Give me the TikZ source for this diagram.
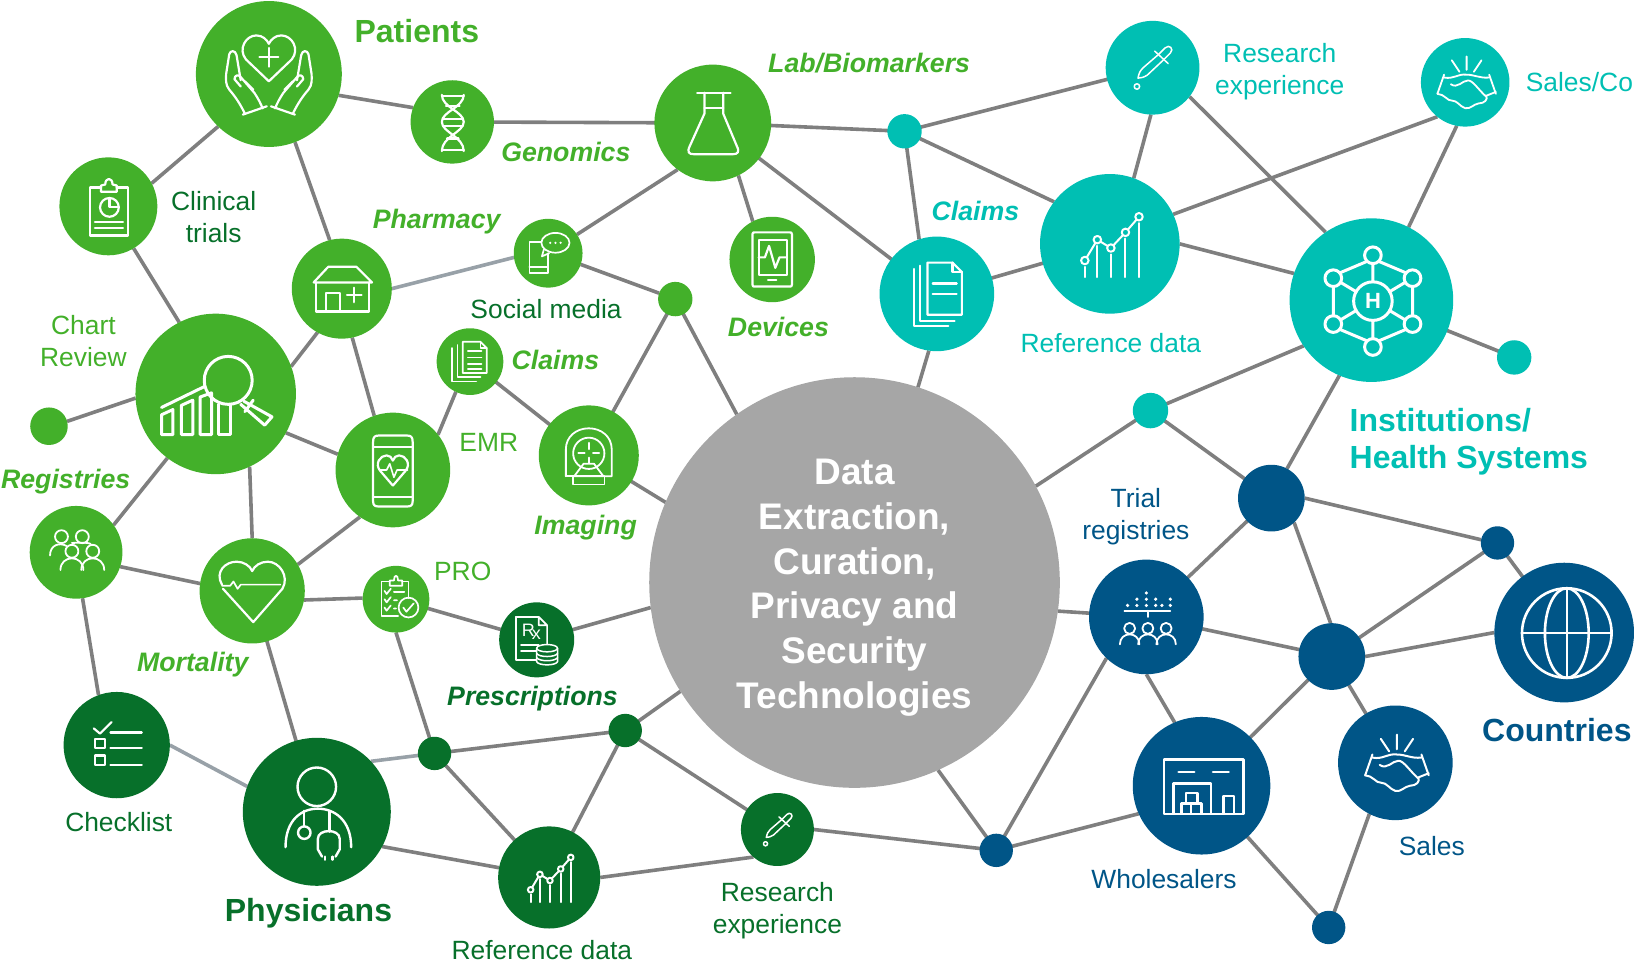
\documentclass[tikz,border=0pt]{standalone}
\usepackage{fontspec}
\setmainfont{Liberation Sans}
\usetikzlibrary{backgrounds}
\definecolor{cgreen}{HTML}{43B02A}
\definecolor{cdark}{HTML}{07702A}
\definecolor{cteal}{HTML}{00BFB3}
\definecolor{cblue}{HTML}{005587}
\definecolor{cgrey}{HTML}{A6A6A6}
\definecolor{linegray}{HTML}{7F7F7F}
\definecolor{linelight}{HTML}{98A1A8}
\tikzset{
  hub/.style={circle,inner sep=0pt,outer sep=0pt,draw=none,minimum size=2.0842pt*#1},
  ngreen/.style={hub=#1,fill=cgreen},
  ndark/.style={hub=#1,fill=cdark},
  nteal/.style={hub=#1,fill=cteal},
  nblue/.style={hub=#1,fill=cblue},
  ncore/.style={hub=#1,fill=cgrey},
  link/.style={draw=linegray,line width=3.6pt},
  linkl/.style={draw=linelight,line width=3.6pt},
  lab/.style={font=\fontsize{26.4}{32}\selectfont,align=center,inner sep=0pt},
  labbi/.style={font=\fontsize{26.7}{32}\selectfont\bfseries\itshape,align=center,inner sep=0pt},
  labb/.style={font=\fontsize{32}{37.5}\selectfont\bfseries,align=left,inner sep=0pt},
  ic/.style={draw=white,line width=#1,line cap=round,line join=round},
  ic/.default=2.2pt,
  pics/hands/.style={code={
    \draw[ic] (0,7) -- (-22,-14) .. controls (-30,-24) and (-22,-37) .. (-12,-37)
      .. controls (-6,-37) and (-2,-33) .. (0,-29) .. controls (2,-33) and (6,-37) .. (12,-37)
      .. controls (22,-37) and (30,-24) .. (22,-14) -- cycle;
    \draw[ic] (-9,-16) -- (9,-16) (0,-25) -- (0,-7);
    \foreach \s in {1,-1}{
      \begin{scope}[xscale=\s]
        \draw[ic] (-25,39) -- (-2,31);
        \draw[ic] (-23,38) .. controls (-28,28) and (-32,22) .. (-38,15)
          .. controls (-42,10) and (-41,5) .. (-41,0) -- (-38,-19)
          .. controls (-37,-23) and (-32,-23) .. (-31,-18) -- (-27,6);
        \draw[ic] (-27,12) -- (-33,5) .. controls (-33,1) and (-29,0) .. (-27,3)
          -- (-14,18) .. controls (-10,24) and (-8,28) .. (-6,33);
        \draw[ic] (-23,7) -- (-15,15);
      \end{scope}}
  }},
  pics/helix/.style={code={
    \draw[ic] (-10,-26) .. controls (-10,-14) and (11,-10) .. (11,0) .. controls (11,10) and (-10,14) .. (-10,28);
    \draw[ic] (11,-26) .. controls (11,-14) and (-10,-10) .. (-10,0) .. controls (-10,10) and (11,14) .. (11,28);
    \draw[ic] (-10,-25) -- (11,-25) (-6,-15) -- (7,-15) (-9,-3) -- (10,-3) (-9,4) -- (10,4) (-5,16) -- (6,16) (-10,27) -- (11,27);
  }},
  pics/flask/.style={code={
    \draw[ic] (-8,-29) -- (-8,-9) -- (-22,22) .. controls (-25,28) and (-23,30) .. (-18,30) -- (19,30)
      .. controls (24,30) and (26,28) .. (23,22) -- (10,-9) -- (10,-29);
    \draw[ic] (-15,-29) -- (17,-29) (-8,-14) -- (10,-14);
  }},
  pics/clipb/.style={code={
    \draw[ic] (-7,-18) -- (-18,-18) -- (-18,28) -- (19,28) -- (19,-18) -- (8,-18);
    \draw[ic] (-7,-14) -- (-7,-20) -- (-3,-21) .. controls (-3,-28) and (4,-28) .. (4,-21) -- (8,-20) -- (8,-14) -- cycle;
    \draw[ic] (1,1) circle[radius=9];
    \draw[ic] (1,-8) -- (1,1) -- (10,1);
    \draw[ic] (-13,15) -- (14,15) (-13,21) -- (14,21);
  }},
  pics/shop/.style={code={
    \draw[ic] (-27,-6) -- (-13,-21) -- (14,-21) -- (29,-6) -- cycle;
    \draw[ic] (-25,-6) -- (-25,22) -- (26,22) -- (26,-6);
    \draw[ic] (-15,22) -- (-15,4) -- (-2,4) -- (-2,22);
    \draw[ic] (5,6) -- (19,6) (12,-1) -- (12,13);
  }},
  pics/review/.style={code={
    \draw[ic=3pt] (12,-13) circle[radius=23];
    \draw[ic=3pt] (-52,13) -- (-11,-7);
    \draw[ic=3pt] (-52,39) -- (-52,20) -- (-41,15) -- (-41,39) -- cycle;
    \draw[ic=3pt] (-33,39) -- (-33,11) -- (-22,6) -- (-22,39) -- cycle;
    \draw[ic=3pt] (-15,39) -- (-15,3) -- (-4,-1) -- (-4,39) -- cycle;
    \draw[ic=3pt] (3,10) -- (3,39) -- (14,39) -- (14,11);
    \draw[ic=3pt] (27,7) -- (54,22) -- (47,30) -- (24,10);
    \draw[ic=3pt] (36,6) -- (28,17);
  }},
  pics/phoneh/.style={code={
    \draw[ic] (-19,-27) .. controls (-19,-32) and (-17,-33) .. (-14,-33) -- (14,-33) .. controls (17,-33) and (19,-32) .. (19,-27)
      -- (19,30) .. controls (19,34) and (17,35) .. (14,35) -- (-14,35) .. controls (-17,35) and (-19,34) .. (-19,30) -- cycle;
    \draw[ic] (-19,-22) -- (19,-22) (-19,26) -- (19,26);
    \draw[ic] (0,15) -- (-12,1) .. controls (-18,-6) and (-12,-14) .. (-6,-14) .. controls (-3,-14) and (-1,-12) .. (0,-9)
      .. controls (1,-12) and (3,-14) .. (6,-14) .. controls (12,-14) and (18,-6) .. (12,1) -- (0,15);
    \draw[ic=1.6pt] (-13,0) -- (-6,0) -- (-3,-6) -- (1,7) -- (4,0) -- (14,0);
  }},
  pics/docsa/.style={code={
    \draw[ic=1.7pt] (-7,-19) -- (10,-19) -- (16,-13) -- (16,11) -- (-7,11) -- cycle;
    \draw[ic=1.7pt] (10,-19) -- (10,-13) -- (16,-13);
    \draw[ic=1.7pt] (-12,-16) -- (-12,15) -- (10,15);
    \draw[ic=1.7pt] (-17,-13) -- (-17,19) -- (6,19);
    \draw[ic=1.7pt] (-2,-10) -- (11,-10) (-2,-4) -- (11,-4) (-2,2) -- (11,2) (-2,7) -- (11,7);
  }},
  pics/docsb/.style={code={
    \draw[ic] (-9,-30) -- (15,-30) -- (24,-21) -- (24,20) -- (-9,20) -- cycle;
    \draw[ic] (15,-30) -- (15,-21) -- (24,-21);
    \draw[ic] (-16,-27) -- (-16,26) -- (17,26);
    \draw[ic] (-22,-24) -- (-22,31) -- (11,31);
    \draw[ic] (-4,-10) -- (19,-10) (-4,0) -- (19,0);
  }},
  pics/chat/.style={code={
    \draw[ic=1.7pt] (-5,-11) -- (-18,-11) -- (-18,19) -- (0,19) -- (0,0);
    \draw[ic=1.7pt] (-18,13) -- (0,13);
    \draw[ic=1.7pt,fill=cgreen] (7,-10) ellipse[x radius=13.5,y radius=9.5];
    \draw[ic=1.7pt] (-4,-4) -- (-6,3) -- (1,0);
    \fill[white] (2,-10) circle[radius=1.2] (7,-10) circle[radius=1.2] (12,-10) circle[radius=1.2];
  }},
  pics/tablet/.style={code={
    \draw[ic] (-19,-24) .. controls (-19,-26) and (-18,-26) .. (-17,-26) -- (17,-26) .. controls (18,-26) and (19,-26) .. (19,-24)
      -- (19,24) .. controls (19,26) and (18,26) .. (17,26) -- (-17,26) .. controls (-18,26) and (-19,26) .. (-19,24) -- cycle;
    \draw[ic] (-13,-19) rectangle (14,15);
    \draw[ic] (-4,20) -- (4,20);
    \draw[ic] (-13,-2) -- (-7,-2) -- (-3,-13) -- (3,8) -- (7,-2) -- (14,-2);
  }},
  pics/scanner/.style={code={
    \draw[ic=1.8pt] (-22,20) -- (-22,-6) .. controls (-22,-18) and (-12,-26) .. (0,-26) .. controls (12,-26) and (22,-18) .. (22,-6) -- (22,20) -- (15,20);
    \draw[ic=1.8pt] (-22,20) -- (-15,20);
    \draw[ic=1.8pt] (0,-2) circle[radius=15];
    \draw[ic=1.8pt] (-10,-2) -- (-4,-2) (4,-2) -- (10,-2) (0,-12) -- (0,-6) (0,2) -- (0,7);
    \draw[ic=1.8pt] (-5,8) -- (5,8) -- (14,20) -- (-14,20) -- cycle;
    \draw[ic=1.8pt] (-15,20) -- (15,20) -- (15,28) -- (-15,28) -- cycle;
  }},
  pics/person/.style={code={
    \draw[ic=1.8pt] (0,0) circle[radius=6.2];
    \draw[ic=1.8pt] (-11,18) .. controls (-11,3) and (11,3) .. (11,18);
  }},
  pics/crowd/.style={code={
    \pic at (-4,-1) {person};
    \pic at (16,-1) {person};
    \draw[ic=1.8pt] (-14,-15) circle[radius=6.2] (6,-15) circle[radius=6.2];
    \draw[ic=1.8pt] (-25,3) .. controls (-25,-7) and (-16,-10) .. (-9,-6);
    \draw[ic=1.8pt] (-4,-9) .. controls (0,-9) and (11,-10) .. (14,-8);
  }},
  pics/bigheart/.style={code={
    \draw[ic] (-29,-6) .. controls (-36,-18) and (-26,-28) .. (-15,-28) .. controls (-8,-28) and (-2,-24) .. (0,-19)
      .. controls (2,-24) and (8,-28) .. (15,-28) .. controls (26,-28) and (36,-14) .. (29,-2) -- (1,30) -- (-28,-2);
    \draw[ic=1.7pt] (-29,-5) -- (-21,-5) -- (-18,-9) -- (-14,-2) -- (-11,-6) -- (27,-6);
  }},
  pics/pro/.style={code={
    \draw[ic=1.7pt] (-6,-17) -- (-14,-17) -- (-14,16) -- (2,16);
    \draw[ic=1.7pt] (6,-17) -- (12,-17) -- (12,-1);
    \draw[ic=1.7pt] (-6,-13) -- (-6,-18) -- (-2,-18) .. controls (-2,-24) and (2,-24) .. (2,-18) -- (6,-18) -- (6,-13) -- cycle;
    \draw[ic=1.7pt] (-11,-8) -- (-9,-5) -- (-5,-10) (-2,-7) -- (8,-7);
    \draw[ic=1.7pt] (-11,0) -- (-9,3) -- (-5,-2) (-2,1) -- (1,1);
    \draw[ic=1.7pt] (-11,8) -- (-9,11) -- (-5,6) (-2,9) -- (0,9);
    \draw[ic=1.7pt] (12,8) circle[radius=9.5];
    \draw[ic=1.7pt] (7,8) -- (10,12) -- (17,4);
  }},
  pics/checks/.style={code={
    \draw[ic] (-22,-16) -- (-16,-11) -- (-5,-22);
    \draw[ic] (-6,-12) -- (24,-12) (-6,3) -- (24,3) (-6,19) -- (24,19);
    \draw[ic,line cap=butt] (-21,-6) rectangle (-11,3) (-21,10) rectangle (-11,19);
  }},
  pics/doctor/.style={code={
    \draw[ic=2.4pt] (0,-24) circle[radius=18.5];
    \draw[ic=2.4pt] (-30,34) .. controls (-30,8) and (-15,-3) .. (1,-3) .. controls (17,-3) and (33,8) .. (33,34);
    \draw[ic=2.4pt] (-12,-1) -- (-12,14) (12,-1) -- (12,19);
    \draw[ic=2.4pt] (-12,20) circle[radius=6];
    \draw[ic=2.4pt] (5,43) -- (1,36) -- (1,26) .. controls (1,16) and (22,16) .. (22,26) -- (22,36) -- (18,43);
    \draw[ic=2.4pt] (8,43) -- (8,46) (15,43) -- (15,46);
  }},
  pics/trend/.style={code={
    \draw[ic=2pt] (-24,16) -- (-12,-4) -- (1,4) -- (15,-11) -- (28,-26);
    \foreach \p in {(-24,16),(-12,-4),(1,4),(15,-11),(28,-26)}{\draw[ic=2pt,fill=#1] \p circle[radius=3.6];}
    \draw[ic=2pt] (-24,22) -- (-24,32) (-12,2) -- (-12,32) (1,10) -- (1,32) (15,-5) -- (15,32) (28,-20) -- (28,32);
  }},
  pics/dropper/.style={code={
    \draw[ic=1.5pt] (-14,10) .. controls (-13,5) and (-12,3) .. (-9,0) -- (6,-13) -- (12,-19) .. controls (16,-23) and (21,-18) .. (17,-14) -- (11,-8) -- (-5,7) .. controls (-8,9) and (-11,10) .. (-14,10) -- cycle;
    \draw[ic=1.5pt] (2,-16) -- (15,-4);
    \draw[ic=1.5pt] (-15,18) circle[radius=2.6];
  }},
  pics/deal/.style={code={
    \draw[ic=#1] (-14,-23) -- (-6,-11) (1.5,-27) -- (1.5,-13) (17,-23) -- (9,-11);
    \draw[ic=#1] (-22,-8) -- (-29,12) (25,-8) -- (32,12);
    \draw[ic=#1] (-22,-5) .. controls (-12,-3) and (-8,-9) .. (1,-8) .. controls (10,-8) and (15,-4) .. (25,-5);
    \draw[ic=#1] (-15,2) .. controls (-8,7) and (-3,-2) .. (3,-2) .. controls (8,-2) and (14,8) .. (22,15);
    \draw[ic=#1] (-29,12) .. controls (-22,12) and (-18,20) .. (-14,19) .. controls (-8,19) and (-6,25) .. (0,27) .. controls (6,28) and (8,23) .. (14,22) .. controls (20,22) and (24,18) .. (22,14) -- (32,10);
  }},
  pics/hospital/.style={code={
    \foreach \a/\b in {0/-44,38/-22,38/22,0/44,-38/22,-38/-22}{\draw[ic=3pt] (\a,\b) circle[radius=8];}
    \draw[ic=3pt] (0,0) circle[radius=18.5];
    \draw[ic=3pt] (-6,-38) -- (-32,-27) (6,-38) -- (32,-27) (38,-14) -- (38,14) (32,27) -- (6,38) (-32,27) -- (-6,38) (-38,14) -- (-38,-14);
    \draw[ic=3pt] (0,-36) -- (0,-18.5) (0,18.5) -- (0,36) (16,-9) -- (31,-18) (16,9) -- (31,18) (-16,-9) -- (-31,-18) (-16,9) -- (-31,18);
  }},
  pics/board/.style={code={
    \draw[ic=1.8pt] (-21,-6) -- (23,-6) (1.5,-6) -- (1.5,0);
    \foreach \a/\b in {-18/-11,-9/-11,-0/-11,9/-11,15/-11,23/-11,-9/-17,0/-17,9/-17,23/-17,0/-23}{\fill[white] (\a,\b) circle[radius=1.7];}
    \pic[scale=.85] at (-16,11) {person};
    \pic[scale=.85] at (1.5,11) {person};
    \pic[scale=.85] at (19,11) {person};
  }},
  pics/globe/.style={code={
    \draw[ic=2.6pt] (2.5,0.5) circle[radius=43];
    \draw[ic=2.6pt] (2.5,0.5) ellipse[x radius=21,y radius=43];
    \draw[ic=2.6pt] (2.5,-42.5) -- (2.5,43.5) (-40.5,0.5) -- (45.5,0.5);
  }},
  pics/depot/.style={code={
    \draw[ic=2.6pt,line cap=butt] (-36,-25) rectangle (40,27);
    \draw[ic=2.6pt] (-22,-13) -- (-7,-13) (11,-13) -- (26,-13);
    \draw[ic=2.6pt,line cap=butt] (-27,27) -- (-27,-2) -- (9,-2) -- (9,27);
    \draw[ic=2.6pt,line cap=butt] (21,27) -- (21,10) -- (31,10) -- (31,27);
    \draw[ic=2.6pt,line cap=butt] (-15,17) -- (-15,7) -- (-4,7) -- (-4,17);
    \draw[ic=2.6pt,line cap=butt] (-19,27) -- (-19,17) -- (0,17) -- (0,27) (-10,17) -- (-10,27);
  }},
}
\begin{document}
\begin{tikzpicture}[x=1.04209pt,y=-1.04209pt]
\useasboundingbox (0,0) rectangle (1568,927);
% nodes
\node[ngreen=70] (pat) at (258,71) {};
\node[ngreen=40] (dna) at (434,117) {};
\node[ngreen=56] (fla) at (684,118) {};
\node[ngreen=47] (cli) at (104,198) {};
\node[ngreen=48] (pha) at (328,277) {};
\node[ngreen=33] (soc) at (526,243) {};
\node[ngreen=77] (cha) at (207,378) {};
\node[ngreen=55] (emr) at (377,451) {};
\node[ngreen=32] (cla) at (451,347) {};
\node[ngreen=48] (ima) at (565,437) {};
\node[ngreen=41] (dev) at (741,249) {};
\node[ngreen=16.5] (gdot) at (648,287) {};
\node[ngreen=18] (ldot) at (47,409) {};
\node[ngreen=44.5] (reg) at (73,530) {};
\node[ngreen=50.5] (mor) at (242,567) {};
\node[ngreen=32] (pro) at (380,575) {};
\node[ndark=36] (pre) at (515,614) {};
\node[ndark=51] (chk) at (112,715) {};
\node[ndark=71] (phy) at (304,779) {};
\node[ndark=16] (ddotA) at (417,723) {};
\node[ndark=16] (ddotB) at (600,701) {};
\node[ndark=49] (refd) at (527,842) {};
\node[ndark=35] (resd) at (746,796) {};
\node[ncore=197] (core) at (820,559) {};
\node[nblue=16] (bdotA) at (956,816) {};
\node[nteal=16.5] (tdotA) at (868,126) {};
\node[nteal=55] (clat) at (899,282) {};
\node[nteal=67] (reft) at (1065,234) {};
\node[nteal=45] (rest) at (1106,65) {};
\node[nteal=42.5] (salt) at (1406,79) {};
\node[nteal=78.5] (ins) at (1316,288) {};
\node[nteal=16.5] (tdotB) at (1453,343) {};
\node[nteal=17] (tdotC) at (1104,394) {};
\node[nblue=32] (bdotB) at (1220,478) {};
\node[nblue=16] (bdotC) at (1437,521) {};
\node[nblue=32] (bdotD) at (1278,630) {};
\node[nblue=55] (tri) at (1100,592) {};
\node[nblue=67] (cou) at (1501,607) {};
\node[nblue=55] (sal) at (1339,732) {};
\node[nblue=66] (who) at (1153,754) {};
\node[nblue=16] (bdotE) at (1275,890) {};
% connectors
\begin{scope}[on background layer]
\draw[link] (pat.226) -- (cli.28);
\draw[link] (pat.-17) -- (dna.160);
\draw[link] (dna.center) -- (fla.center);
\draw[link] (pat.-69) -- (pha.104);
\draw[link] (cli.-59) -- (cha.117);
\draw[link] (ldot.15) -- (cha.183);
\draw[link] (cha.20) -- (pha.241);
\draw[link] (pha.-78) -- (emr.109);
\draw[link] (cha.-29) -- (emr.164);
\draw[link] (cha.-127) -- (reg.36);
\draw[link] (cha.-65) -- (mor.90);
\draw[link] (emr.235) -- (mor.30);
\draw[link] (emr.38) -- (cla.245);
\draw[link] (cla.center) -- (ima.center);
\draw[linkl] (pha.0) -- (soc.187);
\draw[link] (soc.33) -- (fla.233);
\draw[link] (soc.-19) -- (gdot.160);
\draw[link] (gdot.center) -- (ima.center);
\draw[link] (gdot.center) -- (core.125);
\draw[link] (ima.center) -- (core.157);
\draw[link] (fla.-64) -- (dev.117);
\draw[link] (fla.center) -- (tdotA.center);
\draw[link] (fla.center) -- (clat.center);
\draw[link] (tdotA.center) -- (rest.center);
\draw[link] (tdotA.center) -- (reft.143);
\draw[link] (tdotA.center) -- (clat.108);
\draw[link] (clat.center) -- (reft.center);
\draw[link] (clat.262) -- (core.72);
\draw[link] (reft.70) -- (rest.268);
\draw[link] (reft.25) -- (salt.231);
\draw[link] (reft.0) -- (ins.161);
\draw[link] (rest.-38) -- (ins.124);
\draw[link] (salt.259) -- (ins.63);
\draw[link] (ins.center) -- (tdotB.center);
\draw[link] (ins.214) -- (tdotC.center);
\draw[link] (tdotC.center) -- (core.28);
\draw[link] (tdotC.center) -- (bdotB.center);
\draw[link] (ins.247) -- (bdotB.62);
\draw[link] (bdotB.0) -- (bdotC.169);
\draw[link] (bdotB.-47) -- (bdotD.92);
\draw[link] (bdotB.center) -- (tri.center);
\draw[link] (bdotC.center) -- (bdotD.center);
\draw[link] (bdotC.center) -- (cou.center);
\draw[link] (bdotD.0) -- (cou.180);
\draw[link] (bdotD.center) -- (tri.center);
\draw[link] (bdotD.center) -- (who.center);
\draw[link] (bdotD.center) -- (sal.center);
\draw[link] (tri.center) -- (core.-8);
\draw[link] (tri.-90) -- (who.113);
\draw[link] (tri.226) -- (bdotA.center);
\draw[link] (bdotA.center) -- (core.-66);
\draw[link] (bdotA.center) -- (who.204);
\draw[link] (who.center) -- (bdotE.center);
\draw[link] (sal.243) -- (bdotE.center);
\draw[link] (bdotA.center) -- (resd.0);
\draw[link] (resd.center) -- (ddotB.center);
\draw[link] (resd.229) -- (refd.0);
\draw[link] (ddotB.center) -- (core.212);
\draw[link] (ddotB.center) -- (refd.center);
\draw[link] (ddotB.center) -- (ddotA.center);
\draw[linkl] (ddotA.center) -- (phy.43);
\draw[link] (ddotA.center) -- (refd.center);
\draw[link] (ddotA.center) -- (pro.-90);
\draw[link] (phy.-28) -- (refd.169);
\draw[linkl] (phy.160) -- (chk.0);
\draw[link] (phy.center) -- (mor.center);
\draw[link] (chk.110) -- (reg.-82);
\draw[link] (reg.-18) -- (mor.172);
\draw[link] (mor.-10) -- (pro.178);
\draw[link] (pro.center) -- (pre.center);
\draw[link] (pre.center) -- (core.187);
\end{scope}
% icons
\pic at (pat) {hands};
\pic at (dna) {helix};
\pic at (fla) {flask};
\pic at (cli) {clipb};
\pic at (pha) {shop};
\pic at (cha) {review};
\pic at (emr) {phoneh};
\pic at (cla) {docsa};
\pic at (clat) {docsb};
\pic at (soc) {chat};
\pic at (dev) {tablet};
\pic at (ima) {scanner};
\pic at (reg) {crowd};
\pic at (mor) {bigheart};
\pic at (pro) {pro};
\pic at (chk) {checks};
\pic at (phy) {doctor};
\pic[scale=.74] at (refd) {trend=cdark};
\pic at (reft) {trend=cteal};
\pic at (rest) {dropper};
\pic[scale=.76] at (resd) {dropper};
\pic[scale=.92] at (salt) {deal=1.8pt};
\pic at (sal) {deal=2pt};
\pic at ([xshift=1.5pt,yshift=-1pt]ins) {hospital};
\pic at (tri) {board};
\pic at (cou) {globe};
\pic at (who) {depot};
% prescription icon
\begin{scope}[shift={(pre)}]
\draw[ic=1.7pt] (-20,-22) -- (2,-22) -- (10,-14) -- (10,4) (2,-22) -- (2,-14) -- (10,-14);
\draw[ic=1.7pt] (-20,-22) -- (-20,19) -- (-1,19);
\draw[ic=1.7pt] (-15,5) -- (2,5) (-15,11) -- (-1,11);
\draw[ic=1.5pt] (10,8) ellipse[x radius=10,y radius=3.5];
\draw[ic=1.5pt] (0,8) -- (0,21) .. controls (2,25) and (18,25) .. (20,21) -- (20,8);
\draw[ic=1.5pt] (0,13) .. controls (2,17) and (18,17) .. (20,13);
\draw[ic=1.5pt] (0,17) .. controls (2,21) and (18,21) .. (20,17);
\end{scope}
\node[font=\fontsize{18}{18}\selectfont,text=white,inner sep=0pt] (rxt) at (510,606.5) {R\kern-3pt\raisebox{-3pt}{x}};
\node[font=\fontsize{22}{22}\selectfont\bfseries,text=white,inner sep=0pt] (hx) at (1317.5,289) {H};
% labels
\node[labb,text=cgreen] (tpat) at (400,30) {Patients};
\node[labbi,text=cgreen] (tgen) at (543,146) {Genomics};
\node[labbi,text=cgreen] (tlab) at (834,61) {Lab/Biomarkers};
\node[lab,text=cdark] (tcli) at (205,208) {Clinical\\trials};
\node[labbi,text=cgreen] (tpha) at (419,213) {Pharmacy};
\node[lab,text=cdark] (tsoc) at (524,297) {Social media};
\node[labbi,text=cgreen] (tdev) at (747,314) {Devices};
\node[labbi,text=cgreen] (tcla) at (533,345) {Claims};
\node[lab,text=cgreen] (tcha) at (80,327) {Chart\\Review};
\node[lab,text=cgreen] (temr) at (469,425) {EMR};
\node[labbi,text=cgreen] (treg) at (63,462) {Registries};
\node[labbi,text=cgreen] (tima) at (562,506) {Imaging};
\node[lab,text=cgreen] (tpro) at (444,548) {PRO};
\node[labbi,text=cgreen] (tmor) at (185,638) {Mortality};
\node[labbi,text=cdark] (tpre) at (511,670) {Prescriptions};
\node[lab,text=cdark] (tchk) at (114,789) {Checklist};
\node[labb,text=cdark] (tphy) at (296,876) {Physicians};
\node[lab,text=cdark] (trefd) at (520,912) {Reference data};
\node[lab,text=cdark] (tresd) at (746,874) {Research\\experience};
\node[labbi,text=cteal] (tclat) at (936,202) {Claims};
\node[lab,text=cteal] (treft) at (1066,329) {Reference data};
\node[lab,text=cteal] (trest) at (1228,69) {Research\\experience};
\node[lab,text=cteal,anchor=west] (tsalt) at (1464,79) {Sales/Co};
\node[labb,text=cteal,anchor=west] (tins) at (1295,424) {Institutions/\\Health Systems};
\node[lab,text=cblue] (ttri) at (1090,496) {Trial\\registries};
\node[lab,text=cblue] (twho) at (1117,844) {Wholesalers};
\node[lab,text=cblue] (tsal) at (1374,812) {Sales};
\node[labb,text=cblue] (tcou) at (1494,701) {Countries};
\node[font=\fontsize{37}{44.8}\selectfont\bfseries,align=center,text=white,inner sep=0pt] (tcore) at (820,564) {Data\\Extraction,\\Curation,\\Privacy and\\Security\\Technologies};
\end{tikzpicture}
\end{document}
